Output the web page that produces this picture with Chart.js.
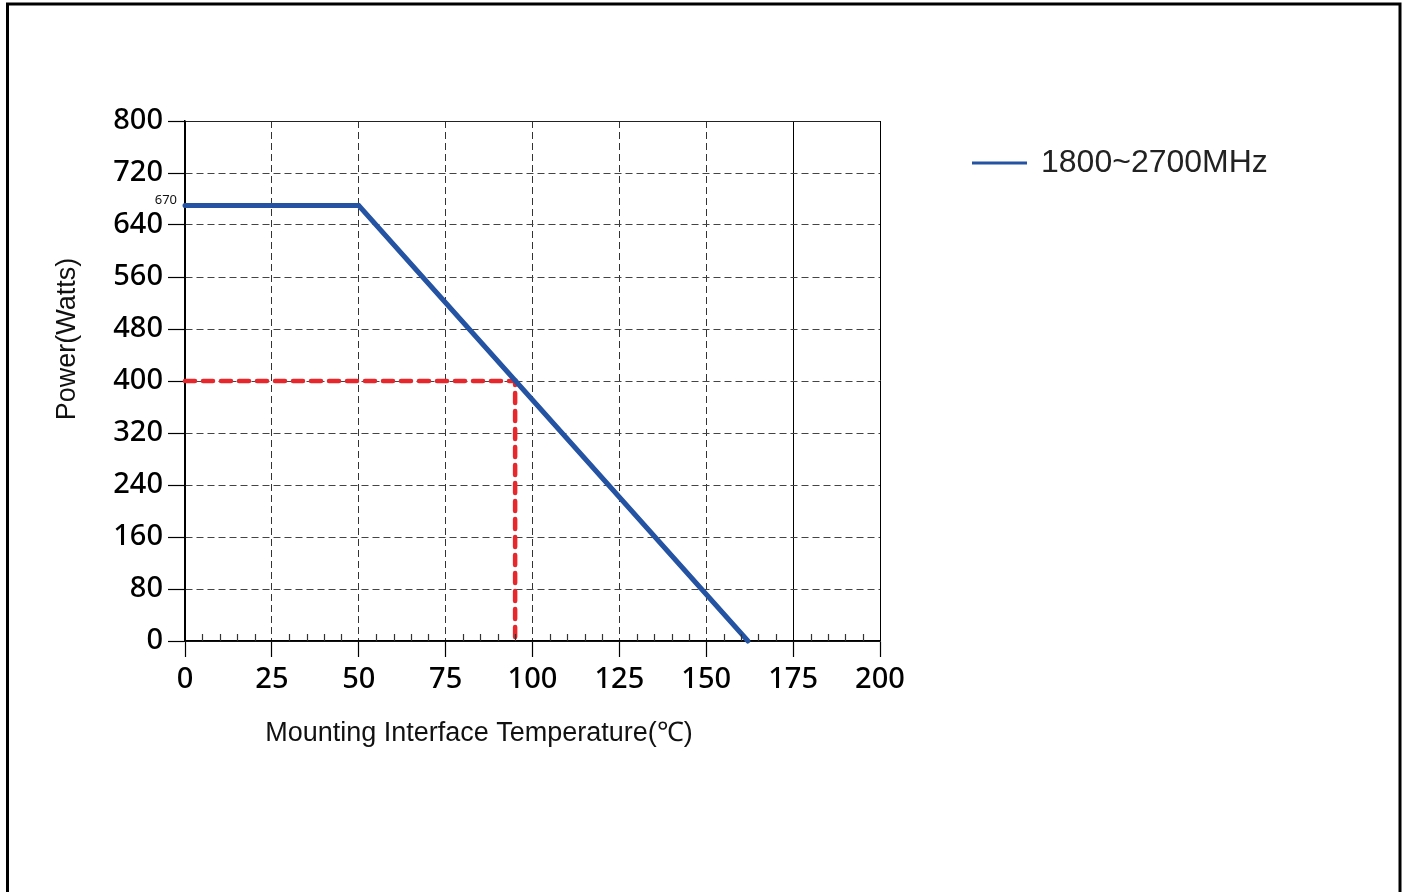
<!DOCTYPE html>
<html>
<head>
<meta charset="utf-8">
<script src="https://cdn.jsdelivr.net/npm/chart.js@4/dist/chart.umd.min.js"></script>
<style>
html,body{margin:0;padding:0;background:#fff;}
#wrap{position:relative;width:1406px;height:892px;}
canvas{display:block;}
</style>
</head>
<body>
<div id="wrap"><canvas id="c" width="1406" height="892" style="width:1406px;height:892px"></canvas></div>
<script>
// ---- data ----
const seriesLabel = '1800~2700MHz';
const tempPoints = [0, 50, 162];
const powerPoints = [670, 670, 0];
const refTemp = [0, 95, 95];
const refPower = [400, 400, 0];
const peakLabel = 670;
const xTickStep = 25;
const xMinorStep = 5;
const yTickStep = 80;
const xTitle = 'Mounting Interface Temperature(℃)';
const yTitle = 'Power(Watts)';

const solidX = [0, 175, 200];
const solidY = [0, 800];

const blue = '#2453a3';
const red = '#e8262b';

const decor = {
  id: 'decor',
  afterDatasetsDraw(chart) {
    const ctx = chart.ctx;
    const xs = chart.scales.x, ys = chart.scales.y;
    ctx.save();
    // minor ticks
    ctx.strokeStyle = '#333';
    ctx.lineWidth = 1.2;
    const y0 = ys.getPixelForValue(0);
    for (let v = xs.min; v <= xs.max; v += xMinorStep) {
      if (v % xTickStep === 0) continue;
      const px = Math.round(xs.getPixelForValue(v)) + 0.5;
      ctx.beginPath();
      ctx.moveTo(px, y0);
      ctx.lineTo(px, y0 - 7);
      ctx.stroke();
    }
    // peak label
    ctx.fillStyle = '#111';
    ctx.font = '13px "Noto Sans"';
    ctx.textAlign = 'right';
    ctx.textBaseline = 'middle';
    ctx.fillText(String(peakLabel), xs.left - 8, ys.getPixelForValue(peakLabel) - 5);
    // axis titles
    ctx.font = '27px "Liberation Sans"';
    ctx.textAlign = 'center';
    ctx.fillText(xTitle, 479, 734);
    ctx.save();
    ctx.translate(68, 339);
    ctx.rotate(-Math.PI / 2);
    ctx.fillText(yTitle, 0, 0);
    ctx.restore();
    // legend
    ctx.strokeStyle = blue;
    ctx.lineWidth = 3;
    ctx.beginPath();
    ctx.moveTo(972, 163);
    ctx.lineTo(1027, 163);
    ctx.stroke();
    ctx.fillStyle = '#222';
    ctx.font = '32px "Liberation Sans"';
    ctx.textAlign = 'left';
    ctx.fillText(chart.data.datasets[0].label, 1041, 163);
    // frame
    ctx.strokeStyle = '#000';
    ctx.lineWidth = 3;
    ctx.strokeRect(7.5, 4, 1392.5, 900);
    ctx.restore();
  }
};

new Chart(document.getElementById('c'), {
  type: 'line',
  data: {
    datasets: [
      {
        label: seriesLabel,
        data: tempPoints.map((t, i) => ({x: t, y: powerPoints[i]})),
        borderColor: blue,
        borderWidth: 5,
        pointRadius: 0,
        tension: 0,
        fill: false,
        clip: false,
        borderCapStyle: 'round',
        borderJoinStyle: 'miter'
      },
      {
        label: 'ref',
        data: refTemp.map((t, i) => ({x: t, y: refPower[i]})),
        borderColor: red,
        borderWidth: 4.5,
        borderDash: [10, 8],
        borderCapStyle: 'round',
        pointRadius: 0,
        tension: 0,
        fill: false,
        clip: false
      }
    ]
  },
  options: {
    responsive: false,
    animation: false,
    devicePixelRatio: 1,
    layout: {padding: {top: 121, left: 0, right: 526, bottom: 0}},
    plugins: {legend: {display: false}, tooltip: {enabled: false}},
    scales: {
      x: {
        type: 'linear',
        min: 0, max: 200,
        afterFit(s) { s.height = 251; },
        ticks: {
          stepSize: xTickStep,
          padding: 5,
          color: '#000',
          font: {family: '"Noto Sans"', size: 29, weight: '500'},
          maxRotation: 0
        },
        grid: {
          color: c => (c.tick && solidX.includes(c.tick.value)) ? '#000' : '#333',
          lineWidth: 1,
          tickLength: 16,
          tickColor: '#000',
          tickWidth: 1.2
        },
        border: {
          display: true,
          color: '#000',
          width: 1.5,
          dash: c => (c.tick && solidX.includes(c.tick.value)) ? [] : [7, 4]
        }
      },
      y: {
        type: 'linear',
        min: 0, max: 800,
        afterFit(s) { s.width = 185; },
        ticks: {
          stepSize: yTickStep,
          padding: 5,
          color: '#000',
          font: {family: '"Noto Sans"', size: 29, weight: '500'}
        },
        grid: {
          color: c => (c.tick && solidY.includes(c.tick.value)) ? '#222' : '#444',
          lineWidth: 1,
          tickLength: 17,
          tickColor: '#000',
          tickWidth: 1.2
        },
        border: {
          display: true,
          color: '#000',
          width: 1.5,
          dash: c => (c.tick && solidY.includes(c.tick.value)) ? [] : [7, 4]
        }
      }
    }
  },
  plugins: [decor]
});
</script>
</body>
</html>
